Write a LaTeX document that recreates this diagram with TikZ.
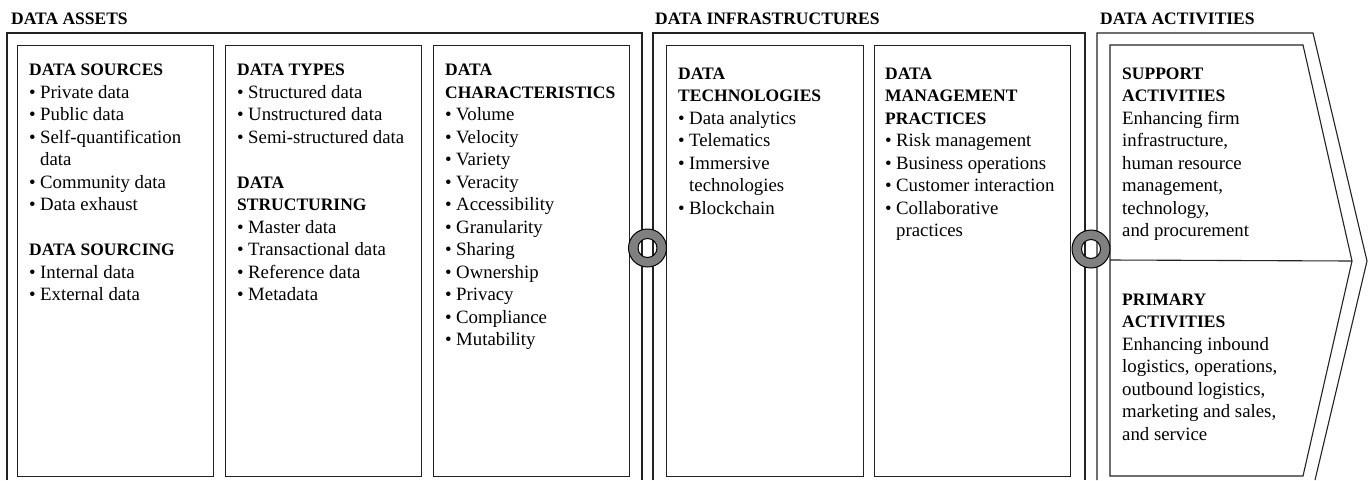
\documentclass[tikz,border=0pt]{standalone}
\usepackage{fontspec}
\setmainfont{Liberation Serif}
\definecolor{ringgray}{HTML}{808080}
\definecolor{linegray}{HTML}{222222}
\newcommand{\bl}{\makebox[11pt][l]{\textbullet}}
\newcommand{\ind}{\hspace*{11pt}}
\newcommand{\hd}[1]{{\fontsize{17.5}{22.5}\selectfont\bfseries #1}}
\begin{document}
\begin{tikzpicture}[x=1pt,y=-1pt,
  frame/.style={draw=linegray, line width=1.1pt},
  inbox/.style={draw=linegray, line width=1.1pt, anchor=north west, inner sep=0pt, minimum height=431},
  txt/.style={anchor=north west, inner sep=0pt, align=left, font=\fontsize{18.8}{22.5}\selectfont},
  head/.style={anchor=base west, inner sep=0pt, font=\fontsize{17.5}{20}\selectfont\bfseries},
  ring/.style={draw=black, line width=1pt, fill=ringgray, even odd rule}]
\useasboundingbox (0,0) rectangle (1370,480);

% group headings
\node[head] (hA) at (11,24) {DATA ASSETS};
\node[head] (hI) at (655,24) {DATA INFRASTRUCTURES};
\node[head] (hD) at (1100,24) {DATA ACTIVITIES};

% outer frames (open at the bottom edge)
\draw[frame] (7,480) -- (7,33) -- (642,33) -- (642,480);
\draw[frame] (653,480) -- (653,33) -- (1085,33) -- (1085,480);
\draw[frame] (1097,480) -- (1097,33) -- (1313,33) -- (1367,261) -- (1315,480);

% inner boxes
\node[inbox, minimum width=196] (b1) at (17,45) {};
\node[inbox, minimum width=196] (b2) at (225,45) {};
\node[inbox, minimum width=196] (b3) at (433,45) {};
\node[inbox, minimum width=197] (b4) at (666,45) {};
\node[inbox, minimum width=196] (b5) at (874,45) {};
\draw[frame] (1110,45) coordinate (c1) -- (1303,45) -- (1352,261) coordinate (tip) -- (1303,476) -- (1110,476) -- cycle;
\coordinate (d1) at (1110,260);
\draw[frame] (d1) -- (tip);

% texts
\node[txt] (t1) at (29,64) {\hd{DATA SOURCES}\\
\bl Private data\\
\bl Public data\\
\bl Self-quantification\\
\ind data\\
\bl Community data\\
\bl Data exhaust\\[22.5pt]
\hd{DATA SOURCING}\\
\bl Internal data\\
\bl External data};

\node[txt] (t2) at (237,64) {\hd{DATA TYPES}\\
\bl Structured data\\
\bl Unstructured data\\
\bl Semi-structured data\\[22.5pt]
\hd{DATA}\\
\hd{STRUCTURING}\\
\bl Master data\\
\bl Transactional data\\
\bl Reference data\\
\bl Metadata};

\node[txt] (t3) at (445,64) {\hd{DATA}\\
\hd{CHARACTERISTICS}\\
\bl Volume\\
\bl Velocity\\
\bl Variety\\
\bl Veracity\\
\bl Accessibility\\
\bl Granularity\\
\bl Sharing\\
\bl Ownership\\
\bl Privacy\\
\bl Compliance\\
\bl Mutability};

\node[txt] (t4) at (678,67.5) {\hd{DATA}\\
\hd{TECHNOLOGIES}\\
\bl Data analytics\\
\bl Telematics\\
\bl Immersive\\
\ind technologies\\
\bl Blockchain};

\node[txt] (t5) at (885,67.5) {\hd{DATA}\\
\hd{MANAGEMENT}\\
\hd{PRACTICES}\\
\bl Risk management\\
\bl Business operations\\
\bl Customer interaction\\
\bl Collaborative\\
\ind practices};

\node[txt] (t6) at (1122,67.5) {\hd{SUPPORT}\\
\hd{ACTIVITIES}\\
Enhancing firm\\
infrastructure,\\
human resource\\
management,\\
technology,\\
and procurement};

\node[txt] (t7) at (1122,293.5) {\hd{PRIMARY}\\
\hd{ACTIVITIES}\\
Enhancing inbound\\
logistics, operations,\\
outbound logistics,\\
marketing and sales,\\
and service};

% rings
\path[ring] (647.5,248) coordinate (r1) circle (19) (r1) circle (9.5);
\path[ring] (1091,249) coordinate (r2) circle (19) (r2) circle (9.5);
\end{tikzpicture}
\end{document}
